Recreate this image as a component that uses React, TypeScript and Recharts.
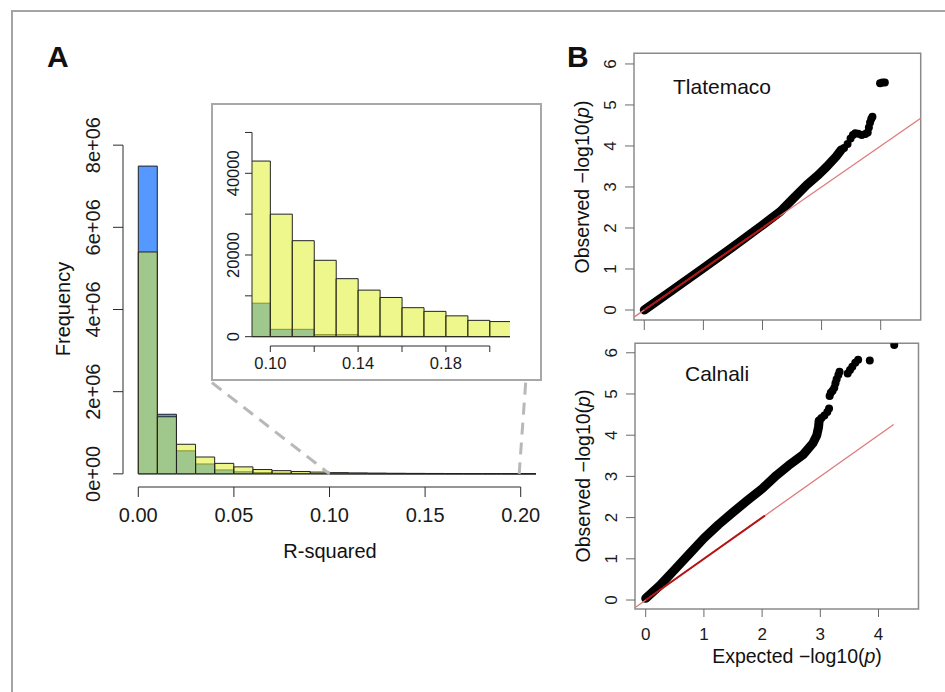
import React from 'react';
import {
  ComposedChart, Bar, Line, Scatter, XAxis, YAxis, ReferenceLine, ReferenceArea,
} from 'recharts';

const FONT = '"Liberation Sans", Arial, Helvetica, sans-serif';

// R-squared histogram, bins of width 0.01 (mid points)
const binMids = [
  0.005, 0.015, 0.025, 0.035, 0.045, 0.055, 0.065, 0.075, 0.085, 0.095,
  0.105, 0.115, 0.125, 0.135, 0.145, 0.155, 0.165, 0.175, 0.185, 0.195, 0.205,
];
const blueCounts = [
  7490000, 1450000, 560000, 240000, 95000, 50000, 30000, 19000, 12000, 8200,
  1800, 1800, 500, 500, 150, 120, 80, 60, 40, 30, 20,
];
const yellowCounts = [
  5400000, 1390000, 720000, 410000, 255000, 170000, 105000, 78000, 58000, 43000,
  30000, 23500, 18700, 14200, 11400, 9600, 7100, 6200, 5100, 4000, 3700,
];

const xTicksA = [0, 0.05, 0.1, 0.15, 0.2];
const xTickLabelsA = ['0.00', '0.05', '0.10', '0.15', '0.20'];
const yTicksA = [0, 2e6, 4e6, 6e6, 8e6];
const yTickLabelsA = ['0e+00', '2e+06', '4e+06', '6e+06', '8e+06'];

// zoomed inset
const xTicksInset = [0.1, 0.12, 0.14, 0.16, 0.18, 0.2];
const xTickLabelsInset = ['0.10', '', '0.14', '', '0.18', ''];
const yTicksInset = [0, 10000, 20000, 30000, 40000, 50000];
const yTickLabelsInset = ['0', '', '20000', '', '40000', ''];

// QQ plots: expected vs observed -log10(p)
const qqTicksX = [0, 1, 2, 3, 4];
const qqTicksY = [0, 1, 2, 3, 4, 5, 6];
const qqTickLabelsX = ['0', '1', '2', '3', '4'];
const qqTickLabelsY = ['0', '1', '2', '3', '4', '5', '6'];

const tlatBand: [number, number][] = [
  [0, 0], [0.5, 0.51], [1, 1.02], [1.5, 1.54], [2, 2.07], [2.3, 2.4], [2.52, 2.72],
  [2.75, 3.05], [2.95, 3.3], [3.09, 3.5], [3.25, 3.75], [3.33, 3.9],
];
const tlatTail: [number, number][] = [
  [3.38, 3.95], [3.44, 4.05], [3.49, 4.18], [3.53, 4.27], [3.57, 4.31], [3.62, 4.3],
  [3.68, 4.27], [3.74, 4.29], [3.78, 4.33], [3.8, 4.45], [3.82, 4.57], [3.84, 4.66],
  [3.86, 4.71], [3.99, 5.53], [4.03, 5.55], [4.07, 5.55],
];
const calBand: [number, number][] = [
  [0, 0.04], [0.25, 0.36], [0.5, 0.74], [0.75, 1.12], [1, 1.5], [1.25, 1.83], [1.5, 2.13],
  [1.75, 2.42], [2, 2.7], [2.25, 3.03], [2.45, 3.26], [2.7, 3.52], [2.87, 3.8],
  [2.94, 4.0], [2.97, 4.2], [2.98, 4.35],
];
const calTail: [number, number][] = [
  [3.02, 4.42], [3.07, 4.48], [3.12, 4.56], [3.15, 4.65], [3.16, 4.95], [3.18, 5.03],
  [3.21, 5.08], [3.24, 5.15], [3.26, 5.26], [3.28, 5.36], [3.31, 5.46], [3.33, 5.54],
  [3.47, 5.5], [3.51, 5.58], [3.55, 5.66], [3.6, 5.76], [3.65, 5.83], [3.85, 5.81],
  [4.27, 6.19],
];

const histData = binMids.map((x, i) => ({ x, blue: blueCounts[i], yellow: yellowCounts[i] }));
const insetData = histData.filter((d) => d.x > 0.09);
const toPts = (arr: [number, number][]) => arr.map(([x, y]) => ({ x, y }));

const labelFor = (ticks: number[], labels: string[], v: number) => {
  const i = ticks.findIndex((t) => Math.abs(t - v) < 1e-9);
  return i >= 0 ? labels[i] : '';
};

const bottomTick = (ticks: number[], labels: string[], size: number) => (p: any) => (
  <text x={p.x} y={p.y} dy="0.71em" textAnchor="middle" fontSize={size} fontFamily={FONT} fill="#1a1a1a">
    {labelFor(ticks, labels, p.payload.value)}
  </text>
);

const leftTick = (ticks: number[], labels: string[], size: number) => (p: any) => (
  <text
    x={p.x}
    y={p.y}
    transform={`rotate(-90 ${p.x} ${p.y})`}
    textAnchor="middle"
    fontSize={size}
    fontFamily={FONT}
    fill="#1a1a1a"
  >
    {labelFor(ticks, labels, p.payload.value)}
  </text>
);

const Dot = (p: any) => <circle cx={p.cx} cy={p.cy} r={4} fill="#000" />;

const AXIS = '#2a2a2a';
const QQ_AXIS = '#6a6a6a';

export default function App() {
  return (
    <div style={{ position: 'absolute', left: 0, top: 0, width: 945, height: 692, background: '#fff', overflow: 'hidden' }}>
      <div style={{ position: 'absolute', left: 11, top: 10, width: 960, height: 720, borderTop: '2px solid #a4a4a4', borderLeft: '2px solid #a4a4a4' }} />

      {/* A: main histogram */}
      <div style={{ position: 'absolute', left: 0, top: 0 }}>
        <ComposedChart width={560} height={560} data={histData} margin={{ top: 132, right: 24, bottom: 0, left: 0 }} barCategoryGap={0} barGap={0}>
          <XAxis
            xAxisId="a" type="number" dataKey="x" domain={[-0.008, 0.208]} allowDataOverflow
            ticks={xTicksA} interval={0} axisLine={false} tickSize={10} tickMargin={11} height={73}
            tickLine={{ stroke: AXIS }} tick={bottomTick(xTicksA, xTickLabelsA, 20)}
          />
          <XAxis xAxisId="b" type="number" dataKey="x" domain={[-0.008, 0.208]} allowDataOverflow hide />
          <YAxis
            type="number" domain={[-320000, 8320000]} allowDataOverflow ticks={yTicksA} interval={0}
            axisLine={false} tickSize={10} tickMargin={13} width={123}
            tickLine={{ stroke: AXIS }} tick={leftTick(yTicksA, yTickLabelsA, 20)}
          />
          <Bar xAxisId="a" dataKey="blue" fill="#5598ff" stroke="#222" strokeWidth={1} isAnimationActive={false} />
          <Bar xAxisId="b" dataKey="yellow" fill="#e0f02e" fillOpacity={0.55} stroke="#222" strokeWidth={1} isAnimationActive={false} />
          <ReferenceLine xAxisId="a" segment={[{ x: 0, y: -320000 }, { x: 0.2, y: -320000 }]} stroke={AXIS} strokeWidth={1} ifOverflow="visible" />
          <ReferenceLine xAxisId="a" segment={[{ x: -0.008, y: 0 }, { x: -0.008, y: 8e6 }]} stroke={AXIS} strokeWidth={1} ifOverflow="visible" />
          <ReferenceLine xAxisId="a" segment={[{ x: 0.0385, y: 2.22e6 }, { x: 0.1, y: 0 }]} stroke="#b8b8b8" strokeWidth={3} strokeDasharray="12 8" ifOverflow="visible" />
          <ReferenceLine xAxisId="a" segment={[{ x: 0.2026, y: 2.22e6 }, { x: 0.1992, y: 0 }]} stroke="#b8b8b8" strokeWidth={3} strokeDasharray="12 8" ifOverflow="visible" />
        </ComposedChart>
      </div>

      {/* A: inset */}
      <div style={{ position: 'absolute', left: 211, top: 103, width: 331, height: 278, boxSizing: 'border-box', border: '2px solid #a8a8a8', background: '#fff' }} />
      <div style={{ position: 'absolute', left: 211, top: 103 }}>
        <ComposedChart width={331} height={278} data={insetData} margin={{ top: 17, right: 32, bottom: 0, left: 0 }} barCategoryGap={0} barGap={0}>
          <XAxis
            xAxisId="a" type="number" dataKey="x" domain={[0.09166, 0.2092]} allowDataOverflow
            ticks={xTicksInset} interval={0} axisLine={false} tickSize={6} tickMargin={5} height={35}
            tickLine={{ stroke: AXIS }} tick={bottomTick(xTicksInset, xTickLabelsInset, 16.5)}
          />
          <XAxis xAxisId="b" type="number" dataKey="x" domain={[0.09166, 0.2092]} allowDataOverflow hide />
          <YAxis
            type="number" domain={[-2280, 53050]} allowDataOverflow ticks={yTicksInset} interval={0}
            axisLine={false} tickSize={7} tickMargin={6} width={41}
            tickLine={{ stroke: AXIS }} tick={leftTick(yTicksInset, yTickLabelsInset, 16.5)}
          />
          <Bar xAxisId="a" dataKey="blue" fill="#5598ff" stroke="#222" strokeWidth={1} isAnimationActive={false} />
          <Bar xAxisId="b" dataKey="yellow" fill="#e0f02e" fillOpacity={0.55} stroke="#222" strokeWidth={1} isAnimationActive={false} />
          <ReferenceLine xAxisId="a" segment={[{ x: 0.1, y: -2280 }, { x: 0.2, y: -2280 }]} stroke={AXIS} strokeWidth={1} ifOverflow="visible" />
          <ReferenceLine xAxisId="a" segment={[{ x: 0.09166, y: 0 }, { x: 0.09166, y: 50000 }]} stroke={AXIS} strokeWidth={1} ifOverflow="visible" />
        </ComposedChart>
      </div>

      {/* B: Tlatemaco */}
      <div style={{ position: 'absolute', left: 560, top: 40 }}>
        <ComposedChart width={380} height={300} margin={{ top: 13.3, right: 19.3, bottom: 0, left: 0 }}>
          <XAxis
            type="number" dataKey="x" domain={[-0.174, 4.677]} allowDataOverflow ticks={qqTicksX} interval={0}
            axisLine={false} tickSize={10} height={20} tickLine={{ stroke: QQ_AXIS }} tick={() => <g />}
          />
          <YAxis
            type="number" dataKey="y" domain={[-0.244, 6.26]} allowDataOverflow ticks={qqTicksY} interval={0}
            axisLine={false} tickSize={9} tickMargin={9} width={74}
            tickLine={{ stroke: QQ_AXIS }} tick={leftTick(qqTicksY, qqTickLabelsY, 17)}
          />
          <ReferenceArea x1={-0.174} x2={4.677} y1={-0.244} y2={6.26} fill="none" stroke="#8a8a8a" strokeWidth={1.5} ifOverflow="visible" />
          <Line data={toPts(tlatBand)} dataKey="y" stroke="#000" strokeWidth={9} strokeLinecap="round" strokeLinejoin="round" dot={false} isAnimationActive={false} />
          <Scatter data={toPts(tlatTail)} dataKey="y" fill="#000" shape={Dot} isAnimationActive={false} />
          <ReferenceLine segment={[{ x: -0.174, y: -0.174 }, { x: 4.677, y: 4.677 }]} stroke="#e07a7a" strokeWidth={1.3} ifOverflow="visible" />
          <ReferenceLine segment={[{ x: 0, y: 0 }, { x: 2.3, y: 2.3 }]} stroke="#b41414" strokeWidth={2} ifOverflow="visible" />
        </ComposedChart>
      </div>

      {/* B: Calnali */}
      <div style={{ position: 'absolute', left: 560, top: 330 }}>
        <ComposedChart width={380} height={340} margin={{ top: 13.3, right: 21.5, bottom: 0, left: 0 }}>
          <XAxis
            type="number" dataKey="x" domain={[-0.184, 4.687]} allowDataOverflow ticks={qqTicksX} interval={0}
            axisLine={false} tickSize={8} tickMargin={11} height={61}
            tickLine={{ stroke: QQ_AXIS }} tick={bottomTick(qqTicksX, qqTickLabelsX, 17)}
          />
          <YAxis
            type="number" dataKey="y" domain={[-0.218, 6.23]} allowDataOverflow ticks={qqTicksY} interval={0}
            axisLine={false} tickSize={9} tickMargin={9} width={75}
            tickLine={{ stroke: QQ_AXIS }} tick={leftTick(qqTicksY, qqTickLabelsY, 17)}
          />
          <ReferenceArea x1={-0.184} x2={4.687} y1={-0.218} y2={6.23} fill="none" stroke="#8a8a8a" strokeWidth={1.5} ifOverflow="visible" />
          <Line data={toPts(calBand)} dataKey="y" stroke="#000" strokeWidth={9} strokeLinecap="round" strokeLinejoin="round" dot={false} isAnimationActive={false} />
          <Scatter data={toPts(calTail)} dataKey="y" fill="#000" shape={Dot} isAnimationActive={false} />
          <ReferenceLine segment={[{ x: -0.18, y: -0.18 }, { x: 4.26, y: 4.26 }]} stroke="#e07a7a" strokeWidth={1.3} ifOverflow="visible" />
          <ReferenceLine segment={[{ x: 0, y: 0 }, { x: 2.05, y: 2.05 }]} stroke="#b41414" strokeWidth={2} ifOverflow="visible" />
        </ComposedChart>
      </div>

      {/* titles and labels */}
      <svg width={945} height={692} style={{ position: 'absolute', left: 0, top: 0, pointerEvents: 'none' }} fontFamily={FONT} fill="#111">
        <text x={47} y={67} fontSize={30} fontWeight="bold">A</text>
        <text x={567} y={67} fontSize={30} fontWeight="bold">B</text>
        <text x={70} y={309} fontSize={20} textAnchor="middle" transform="rotate(-90 70 309)">Frequency</text>
        <text x={330} y={558} fontSize={20} textAnchor="middle">R-squared</text>
        <text x={673} y={94} fontSize={21}>Tlatemaco</text>
        <text x={685} y={381} fontSize={21}>Calnali</text>
        <text x={589} y={187} fontSize={19.5} textAnchor="middle" transform="rotate(-90 589 187)">
          Observed −log10(<tspan fontStyle="italic">p</tspan>)
        </text>
        <text x={590} y={476} fontSize={19.5} textAnchor="middle" transform="rotate(-90 590 476)">
          Observed −log10(<tspan fontStyle="italic">p</tspan>)
        </text>
        <text x={797} y={663} fontSize={19.5} textAnchor="middle">
          Expected −log10(<tspan fontStyle="italic">p</tspan>)
        </text>
      </svg>
    </div>
  );
}
